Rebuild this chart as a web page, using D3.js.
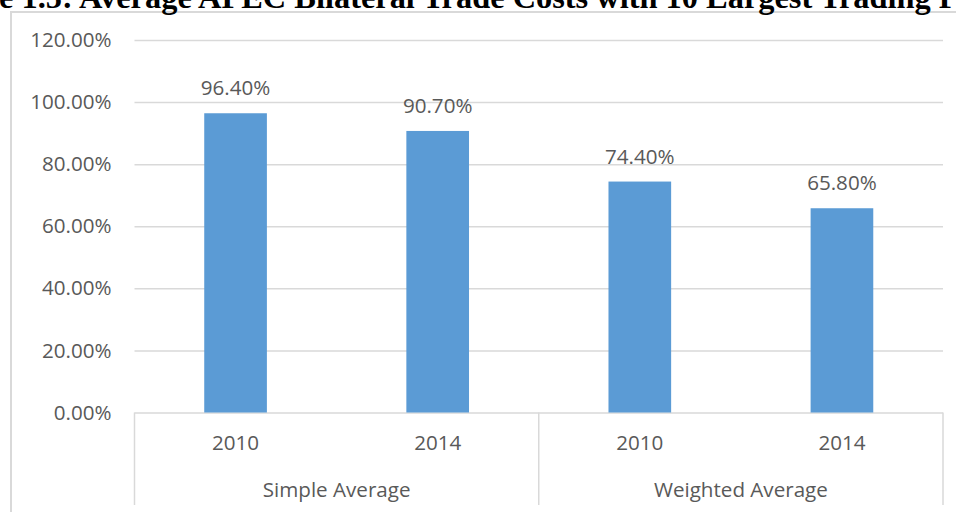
<!DOCTYPE html>
<html>
<head>
<meta charset="utf-8">
<script src="https://cdn.jsdelivr.net/npm/d3@7"></script>
<style>
  body { margin: 0; background: #fff; overflow: hidden; }
  svg { display: block; }
</style>
</head>
<body>
<div id="chart"></div>
<script>
// chart data
const groups = ["Simple Average", "Weighted Average"];
const years = ["2010", "2014", "2010", "2014"];
const values = [96.4, 90.7, 74.4, 65.8];
const yTicks = [0, 20, 40, 60, 80, 100, 120];
const titleText = "e 1.5: Average APEC Bilateral Trade Costs with 10 Largest Trading P";

const W = 956, H = 512;
const plotLeft = 134.5, plotRight = 943, plotTop = 40, plotBottom = 412.5, axisBottom = 505;

const svg = d3.select("#chart").append("svg")
  .attr("width", W)
  .attr("height", H);

// outer chart frame, runs off the page to the right and bottom
svg.append("rect")
  .attr("x", 11).attr("y", 12)
  .attr("width", 1000).attr("height", 600)
  .attr("fill", "none")
  .attr("stroke", "#d9d9d9")
  .attr("stroke-width", 2);

// title (cut off at the top edge of the page, as in the source)
const title = svg.append("text")
  .attr("x", -1).attr("y", 8)
  .style("font-family", "'Liberation Serif', 'Times New Roman', serif")
  .style("font-weight", "bold")
  .style("font-size", "24px")
  .attr("fill", "#000")
  .text(titleText);
const tw = title.node().getComputedTextLength();
title.style("font-size", (24 * 960 / tw) + "px");

const x = d3.scaleBand()
  .domain(d3.range(values.length))
  .range([plotLeft, plotRight])
  .paddingInner(0.69)
  .paddingOuter(0.345);

const xGroup = d3.scaleBand()
  .domain(d3.range(groups.length))
  .range([plotLeft, plotRight]);

const y = d3.scaleLinear()
  .domain([0, 120])
  .range([plotBottom, plotTop]);

const fmt = d3.format(".2%");
const labelFont = "'Open Sans', 'Noto Sans', sans-serif";
const labelSize = "20.6px";

// gridlines + y labels
const yAxis = svg.append("g")
  .attr("transform", `translate(${plotLeft},0)`)
  .call(d3.axisLeft(y).tickValues(yTicks).tickSize(-(plotRight - plotLeft)).tickPadding(23)
    .tickFormat(d => fmt(d / 100)));
yAxis.select(".domain").remove();
yAxis.selectAll(".tick line")
  .attr("stroke", "#d9d9d9")
  .attr("stroke-width", 1.5);
yAxis.selectAll(".tick text")
  .attr("fill", "#595959")
  .style("font-family", labelFont)
  .style("font-size", labelSize);

// bars
svg.selectAll(".bar")
  .data(values)
  .enter().append("rect")
  .attr("class", "bar")
  .attr("x", (d, i) => x(i))
  .attr("y", d => y(d))
  .attr("width", x.bandwidth())
  .attr("height", d => y(0) - y(d))
  .attr("fill", "#5b9bd5");

// value labels
svg.selectAll(".val")
  .data(values)
  .enter().append("text")
  .attr("class", "val")
  .attr("x", (d, i) => x(i) + x.bandwidth() / 2)
  .attr("y", d => y(d) - 18)
  .attr("text-anchor", "middle")
  .attr("fill", "#595959")
  .style("font-family", labelFont)
  .style("font-size", labelSize)
  .text(d => fmt(d / 100));

// category axis: vertical dividers
const dividers = [plotLeft].concat(groups.map((g, i) => xGroup(i) + xGroup.bandwidth()));
svg.selectAll(".div")
  .data(dividers)
  .enter().append("line")
  .attr("x1", d => d).attr("x2", d => d)
  .attr("y1", plotBottom).attr("y2", axisBottom)
  .attr("stroke", "#d9d9d9")
  .attr("stroke-width", 1.5);

// year labels
svg.selectAll(".yr")
  .data(years)
  .enter().append("text")
  .attr("class", "yr")
  .attr("x", (d, i) => x(i) + x.bandwidth() / 2)
  .attr("y", 450)
  .attr("text-anchor", "middle")
  .attr("fill", "#595959")
  .style("font-family", labelFont)
  .style("font-size", labelSize)
  .text(d => d);

// group labels
svg.selectAll(".grp")
  .data(groups)
  .enter().append("text")
  .attr("class", "grp")
  .attr("x", (d, i) => xGroup(i) + xGroup.bandwidth() / 2)
  .attr("y", 497)
  .attr("text-anchor", "middle")
  .attr("fill", "#595959")
  .style("font-family", labelFont)
  .style("font-size", labelSize)
  .text(d => d);
</script>
</body>
</html>
